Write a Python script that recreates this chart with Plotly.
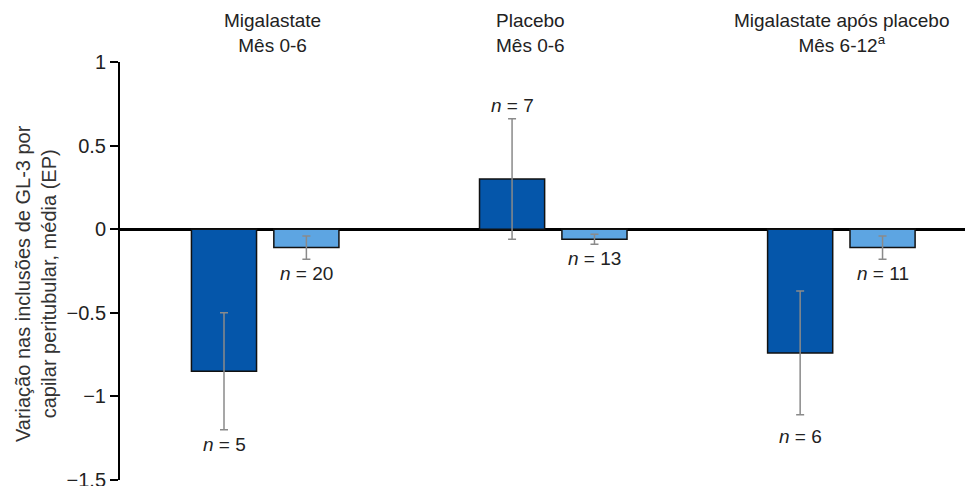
import plotly.graph_objects as go

# ---- data ----
groups = ["Migalastate<br>Mês 0-6", "Placebo<br>Mês 0-6", "Migalastate após placebo<br>Mês 6-12<sup>a</sup>"]
group_pos = [0, 1, 2]
dark_mean = [-0.85, 0.30, -0.74]
dark_se = [0.35, 0.36, 0.37]
dark_n = [5, 7, 6]
light_mean = [-0.11, -0.06, -0.11]
light_se = [0.07, 0.03, 0.07]
light_n = [20, 13, 11]
y_tickvals = [1, 0.5, 0, -0.5, -1, -1.5]
y_ticktext = ["1", "0.5", "0", "−0.5", "−1", "−1.5"]
y_title = "Variação nas inclusões de GL-3 por<br>capilar peritubular, média (EP)"

FONT = "Liberation Sans, Arial, sans-serif"
DARK = "#0556AA"
LIGHT = "#5DA5E2"
ERR = "#8a8a8a"
BW = 0.226

fig = go.Figure()
fig.add_trace(go.Bar(
    x=group_pos, y=dark_mean, width=BW, offset=-0.255,
    marker=dict(color=DARK, line=dict(color="#111", width=1.5)),
    error_y=dict(type="data", array=dark_se, color=ERR, thickness=1.5, width=4),
    showlegend=False, hoverinfo="skip"))
fig.add_trace(go.Bar(
    x=group_pos, y=light_mean, width=BW, offset=0.031,
    marker=dict(color=LIGHT, line=dict(color="#111", width=1.5)),
    error_y=dict(type="data", array=light_se, color=ERR, thickness=1.5, width=4),
    showlegend=False, hoverinfo="skip"))

ann = []
def n_label(xc, m, s, n, extra=0):
    if m >= 0:
        return dict(x=xc, y=m + s, xref="x", yref="y", text=f"<i>n</i> = {n}",
                    showarrow=False, yanchor="bottom", yshift=1,
                    font=dict(family=FONT, size=19, color="#222"))
    return dict(x=xc, y=m - s, xref="x", yref="y", text=f"<i>n</i> = {n}",
                showarrow=False, yanchor="top", yshift=-2 - extra,
                font=dict(family=FONT, size=19, color="#222"))

for g, m, s, n, ex in zip(group_pos, dark_mean, dark_se, dark_n, [0, 0, 7]):
    ann.append(n_label(g - 0.255 + BW / 2, m, s, n, ex))
for g, m, s, n in zip(group_pos, light_mean, light_se, light_n):
    ann.append(n_label(g + 0.031 + BW / 2, m, s, n))

for g, lab, xs in zip(group_pos, groups, [8, -22, 0]):
    ann.append(dict(x=g, y=1, xref="x", yref="paper", text=lab, showarrow=False,
                    yanchor="bottom", yshift=4, xshift=xs, align="center",
                    font=dict(family=FONT, size=19, color="#222")))

ann.append(dict(x=-0.0985, y=0.471, xref="paper", yref="paper", text=y_title,
                textangle=-90, showarrow=False, xanchor="center", yanchor="middle",
                align="center", font=dict(family=FONT, size=20, color="#333")))

fig.update_layout(
    width=965, height=478,
    margin=dict(l=112, r=0, t=54, b=6, autoexpand=False),
    paper_bgcolor="white", plot_bgcolor="white",
    barmode="overlay",
    annotations=ann,
    xaxis=dict(range=[-0.503, 2.458], showline=False, showgrid=False, zeroline=False,
               showticklabels=False, ticks="", automargin=False),
    yaxis=dict(range=[-1.5, 1], tickvals=y_tickvals, ticktext=y_ticktext,
               showline=True, linecolor="black", linewidth=2,
               ticks="outside", ticklen=8, tickwidth=2, tickcolor="black",
               showgrid=False, zeroline=True, zerolinecolor="black", zerolinewidth=2.5,
               ticklabeloverflow="allow",
               tickfont=dict(family=FONT, size=20, color="#222"), automargin=False),
)

fig.write_html("out.html")
